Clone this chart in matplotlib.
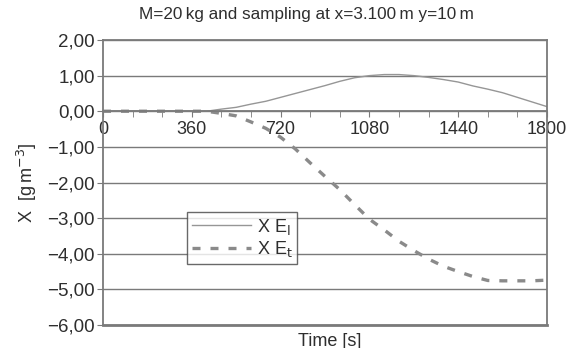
import numpy as np
import matplotlib
matplotlib.use("Agg")
import matplotlib.pyplot as plt
from matplotlib.ticker import FuncFormatter, MultipleLocator

plt.rcParams['font.family'] = ['Liberation Sans', 'DejaVu Sans']

# time [s], one reading every 60 s
time_s = [0, 60, 120, 180, 240, 300, 360, 420, 480, 540, 600, 660, 720, 780,
          840, 900, 960, 1020, 1080, 1140, 1200, 1260, 1320, 1380, 1440,
          1500, 1560, 1620, 1680, 1740, 1800]
x_el = [0, 0, 0, 0, 0, 0, 0, 0, 0.06, 0.11, 0.20, 0.28, 0.39, 0.50,
        0.61, 0.72, 0.84, 0.94, 1.00, 1.03, 1.03, 1.00, 0.95, 0.89, 0.82,
        0.71, 0.62, 0.52, 0.39, 0.26, 0.13]
x_et = [0, 0, 0, 0, 0, 0, 0, 0, -0.06, -0.13, -0.30, -0.48, -0.73, -1.06,
        -1.45, -1.83, -2.20, -2.62, -3.03, -3.33, -3.65, -3.91, -4.15, -4.35,
        -4.50, -4.64, -4.75, -4.76, -4.76, -4.76, -4.74]

title = "M=20\u2009kg and sampling at x=3.100\u2009m y=10\u2009m"
frame_col = "#7a7a7a"
txt_col = "#2e2e2e"
fs = 13

fig = plt.figure(figsize=(5.67, 3.48), dpi=100)
ax = fig.add_axes([103 / 567, 1 - 325 / 348, 444 / 567, 285 / 348])

ax.plot(time_s, x_el, color="#969696", lw=1.0, label="X E$_\\mathrm{l}$")
ax.plot(time_s, x_et, color="#8a8a8a", lw=2.4, dashes=(2.4, 3.0),
        label="X E$_\\mathrm{t}$")

ax.set_xlim(0, 1800)
ax.set_ylim(-6, 2)
ax.xaxis.set_major_locator(MultipleLocator(360))
ax.xaxis.set_minor_locator(MultipleLocator(120))
ax.yaxis.set_major_locator(MultipleLocator(1))
ax.yaxis.set_major_formatter(
    FuncFormatter(lambda v, p: f"{v:.2f}".replace(".", ",").replace("-", "\u2212")))

ax.spines['bottom'].set_position(('data', 0))
for s in ax.spines.values():
    s.set_color(frame_col)
    s.set_linewidth(1.3)
ax.grid(axis='y', color=frame_col, lw=1.0)
ax.axhline(-6, color=frame_col, lw=2.0, clip_on=False)

ax.tick_params(axis='x', which='both', direction='out', length=4,
               color=frame_col, labelsize=fs, pad=3, labelcolor=txt_col)
ax.tick_params(axis='y', direction='out', length=4, color=frame_col,
               labelsize=13.5, pad=2, labelcolor=txt_col)

fig.text(306 / 567, 1 - 15 / 348, title, fontsize=12.3, color=txt_col,
         ha='center', va='center')
ax.set_ylabel("X  [g\u2009m$^{-3}$]", fontsize=fs, color=txt_col, labelpad=6)
fig.text(330 / 567, 1 - 341 / 348, "Time [s]", fontsize=fs,
         color=txt_col, ha='center', va='center')

leg = ax.legend(loc='upper left', bbox_to_anchor=(84 / 444, 1 - 172 / 285),
                fontsize=fs, frameon=True, fancybox=False, borderpad=0.25,
                handlelength=3.3, handletextpad=0.3, labelspacing=0.15,
                borderaxespad=0)
leg.get_frame().set_edgecolor("#444444")
leg.get_frame().set_linewidth(1.0)
for t in leg.get_texts():
    t.set_color(txt_col)

fig.savefig("out.png", dpi=100)
